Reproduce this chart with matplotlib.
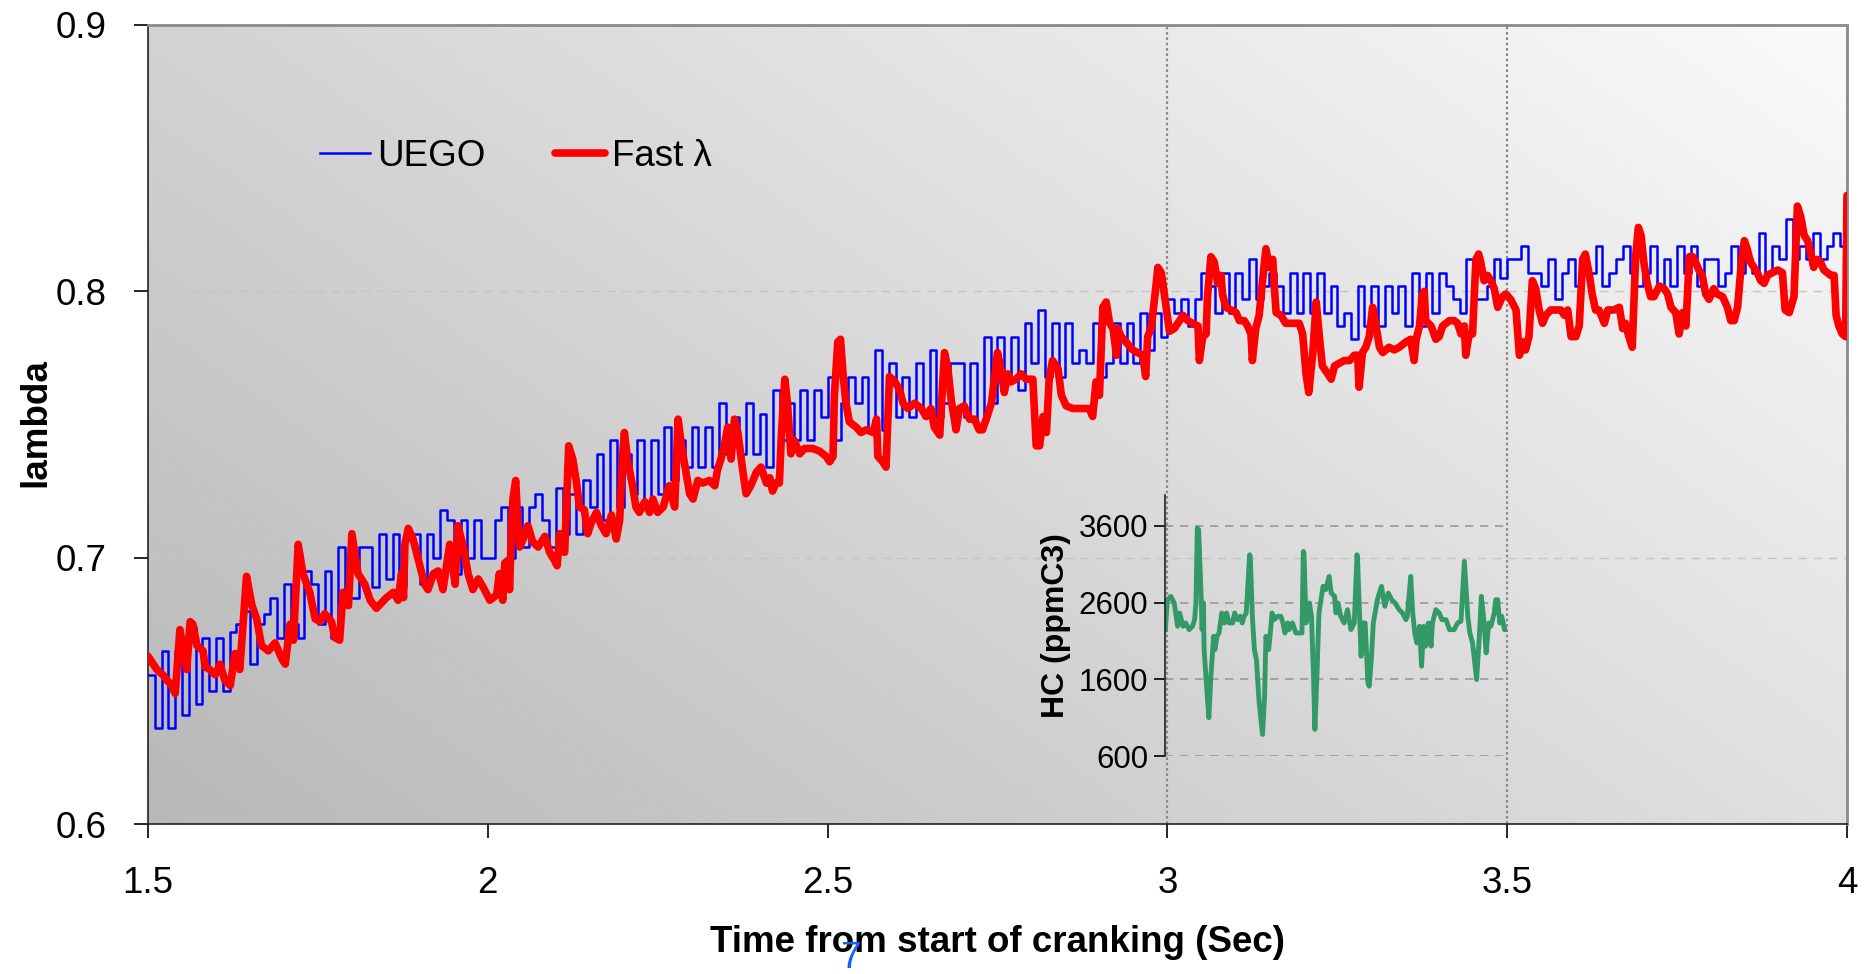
import matplotlib
matplotlib.use("Agg")
import matplotlib.pyplot as plt
from matplotlib.lines import Line2D
import numpy as np

plt.rcParams['font.family'] = ['Liberation Sans', 'DejaVu Sans']

# UEGO lambda, stepped signal sampled every 0.01 s from 1.50 to 4.00 s
uego_start = 1.50
uego_step = 0.01
uego = [
    0.656, 0.636, 0.665, 0.636, 0.665, 0.641, 0.674, 0.645, 0.670, 0.650,
    0.670, 0.650, 0.672, 0.675, 0.680, 0.660, 0.675, 0.679, 0.685, 0.670,
    0.690, 0.675, 0.670, 0.695, 0.690, 0.675, 0.695, 0.670, 0.704, 0.685,
    0.685, 0.704, 0.704, 0.689, 0.709, 0.692, 0.709, 0.689, 0.709, 0.709,
    0.690, 0.709, 0.700, 0.718, 0.714, 0.694, 0.714, 0.700, 0.714, 0.700,
    0.700, 0.714, 0.719, 0.700, 0.719, 0.704, 0.719, 0.724, 0.714, 0.704,
    0.726, 0.709, 0.724, 0.709, 0.729, 0.719, 0.739, 0.714, 0.744, 0.719,
    0.739, 0.724, 0.744, 0.719, 0.744, 0.724, 0.749, 0.729, 0.744, 0.734,
    0.749, 0.734, 0.749, 0.734, 0.758, 0.739, 0.753, 0.739, 0.758, 0.739,
    0.754, 0.734, 0.763, 0.744, 0.758, 0.744, 0.763, 0.744, 0.763, 0.753,
    0.768, 0.744, 0.758, 0.768, 0.758, 0.768, 0.748, 0.778, 0.748, 0.773,
    0.753, 0.768, 0.753, 0.773, 0.753, 0.778, 0.753, 0.758, 0.773, 0.773,
    0.753, 0.773, 0.748, 0.783, 0.758, 0.783, 0.768, 0.783, 0.763, 0.788,
    0.773, 0.793, 0.768, 0.788, 0.768, 0.788, 0.773, 0.778, 0.773, 0.788,
    0.768, 0.773, 0.788, 0.773, 0.788, 0.773, 0.792, 0.778, 0.792, 0.783,
    0.797, 0.792, 0.797, 0.787, 0.797, 0.807, 0.802, 0.792, 0.807, 0.792,
    0.807, 0.797, 0.812, 0.797, 0.802, 0.807, 0.802, 0.792, 0.807, 0.792,
    0.807, 0.792, 0.807, 0.792, 0.802, 0.787, 0.792, 0.782, 0.802, 0.787,
    0.802, 0.787, 0.802, 0.792, 0.802, 0.787, 0.807, 0.787, 0.807, 0.792,
    0.807, 0.802, 0.797, 0.792, 0.812, 0.797, 0.797, 0.802, 0.812, 0.805,
    0.812, 0.812, 0.817, 0.807, 0.807, 0.802, 0.812, 0.797, 0.807, 0.812,
    0.802, 0.807, 0.807, 0.817, 0.802, 0.807, 0.812, 0.817, 0.807, 0.802,
    0.807, 0.817, 0.802, 0.812, 0.802, 0.817, 0.807, 0.817, 0.802, 0.812,
    0.812, 0.802, 0.807, 0.817, 0.807, 0.812, 0.807, 0.822, 0.807, 0.817,
    0.812, 0.827, 0.812, 0.817, 0.812, 0.822, 0.812, 0.817, 0.822, 0.817,
    0.812,
]

# Fast lambda (time s, lambda)
fast_lambda = [
    (1.500, 0.663), (1.513, 0.658), (1.522, 0.656), (1.528, 0.654), (1.535, 0.652),
    (1.540, 0.649), (1.547, 0.673), (1.557, 0.658), (1.562, 0.676), (1.566, 0.675),
    (1.572, 0.667), (1.581, 0.665), (1.584, 0.659), (1.591, 0.658), (1.599, 0.656),
    (1.606, 0.660), (1.613, 0.654), (1.621, 0.652), (1.628, 0.664), (1.635, 0.658),
    (1.645, 0.693), (1.653, 0.682), (1.660, 0.677), (1.667, 0.667), (1.677, 0.665),
    (1.687, 0.668), (1.697, 0.662), (1.702, 0.660), (1.709, 0.675), (1.714, 0.669),
    (1.721, 0.705), (1.728, 0.694), (1.738, 0.687), (1.746, 0.677), (1.753, 0.676),
    (1.760, 0.679), (1.770, 0.676), (1.775, 0.670), (1.782, 0.669), (1.787, 0.687),
    (1.795, 0.682), (1.800, 0.709), (1.809, 0.694), (1.819, 0.690), (1.827, 0.684),
    (1.836, 0.681), (1.851, 0.685), (1.861, 0.687), (1.868, 0.684), (1.873, 0.694),
    (1.876, 0.685), (1.878, 0.705), (1.883, 0.711), (1.890, 0.707), (1.895, 0.702),
    (1.907, 0.690), (1.912, 0.688), (1.920, 0.694), (1.927, 0.695), (1.934, 0.688),
    (1.944, 0.705), (1.952, 0.690), (1.956, 0.712), (1.964, 0.704), (1.971, 0.694),
    (1.978, 0.688), (1.986, 0.692), (1.993, 0.689), (2.003, 0.684), (2.013, 0.686),
    (2.017, 0.694), (2.022, 0.684), (2.025, 0.698), (2.030, 0.699), (2.032, 0.688),
    (2.035, 0.712), (2.037, 0.722), (2.041, 0.729), (2.044, 0.714), (2.047, 0.704),
    (2.052, 0.707), (2.059, 0.712), (2.066, 0.706), (2.074, 0.704), (2.084, 0.708),
    (2.091, 0.702), (2.098, 0.699), (2.102, 0.697), (2.106, 0.709), (2.113, 0.702),
    (2.115, 0.714), (2.119, 0.742), (2.125, 0.737), (2.130, 0.729), (2.135, 0.719),
    (2.142, 0.718), (2.147, 0.709), (2.152, 0.713), (2.160, 0.717), (2.167, 0.712),
    (2.174, 0.709), (2.182, 0.716), (2.189, 0.707), (2.194, 0.714), (2.198, 0.737),
    (2.201, 0.747), (2.206, 0.736), (2.213, 0.727), (2.218, 0.719), (2.223, 0.717),
    (2.231, 0.721), (2.238, 0.717), (2.243, 0.722), (2.250, 0.717), (2.258, 0.719),
    (2.267, 0.727), (2.275, 0.719), (2.280, 0.752), (2.285, 0.742), (2.289, 0.736),
    (2.297, 0.724), (2.302, 0.722), (2.309, 0.729), (2.316, 0.728), (2.326, 0.729),
    (2.334, 0.727), (2.338, 0.733), (2.343, 0.737), (2.348, 0.742), (2.353, 0.749),
    (2.358, 0.737), (2.363, 0.752), (2.368, 0.747), (2.375, 0.733), (2.380, 0.724),
    (2.387, 0.727), (2.395, 0.732), (2.402, 0.734), (2.410, 0.728), (2.415, 0.730),
    (2.419, 0.725), (2.424, 0.728), (2.429, 0.728), (2.432, 0.746), (2.437, 0.767),
    (2.441, 0.758), (2.446, 0.739), (2.451, 0.744), (2.459, 0.739), (2.466, 0.741),
    (2.478, 0.741), (2.488, 0.740), (2.498, 0.738), (2.503, 0.736), (2.508, 0.738),
    (2.510, 0.761), (2.515, 0.781), (2.519, 0.782), (2.523, 0.768), (2.527, 0.758),
    (2.532, 0.751), (2.542, 0.749), (2.549, 0.747), (2.557, 0.748), (2.567, 0.747),
    (2.572, 0.752), (2.574, 0.738), (2.581, 0.736), (2.586, 0.734), (2.591, 0.768),
    (2.599, 0.766), (2.606, 0.763), (2.611, 0.758), (2.618, 0.756), (2.628, 0.758),
    (2.638, 0.756), (2.645, 0.753), (2.652, 0.756), (2.657, 0.749), (2.665, 0.746),
    (2.672, 0.777), (2.677, 0.771), (2.682, 0.759), (2.689, 0.748), (2.694, 0.756),
    (2.701, 0.757), (2.709, 0.752), (2.716, 0.752), (2.723, 0.748), (2.728, 0.748),
    (2.736, 0.754), (2.741, 0.758), (2.746, 0.768), (2.750, 0.777), (2.755, 0.771),
    (2.760, 0.762), (2.765, 0.769), (2.770, 0.766), (2.777, 0.767), (2.785, 0.769),
    (2.792, 0.767), (2.802, 0.767), (2.807, 0.742), (2.812, 0.742), (2.817, 0.753),
    (2.822, 0.747), (2.826, 0.767), (2.831, 0.774), (2.839, 0.771), (2.844, 0.761),
    (2.851, 0.757), (2.861, 0.756), (2.875, 0.756), (2.885, 0.756), (2.890, 0.753),
    (2.895, 0.766), (2.900, 0.761), (2.905, 0.794), (2.910, 0.796), (2.915, 0.788),
    (2.920, 0.786), (2.925, 0.776), (2.927, 0.786), (2.932, 0.783), (2.939, 0.781),
    (2.949, 0.778), (2.956, 0.777), (2.964, 0.776), (2.968, 0.768), (2.971, 0.783),
    (2.976, 0.786), (2.981, 0.797), (2.986, 0.809), (2.991, 0.807), (2.996, 0.798),
    (3.003, 0.785), (3.010, 0.786), (3.018, 0.789), (3.023, 0.791), (3.030, 0.789),
    (3.037, 0.788), (3.045, 0.787), (3.047, 0.774), (3.052, 0.783), (3.057, 0.784),
    (3.059, 0.798), (3.064, 0.813), (3.069, 0.811), (3.074, 0.803), (3.079, 0.806),
    (3.081, 0.799), (3.086, 0.794), (3.094, 0.793), (3.101, 0.792), (3.106, 0.789),
    (3.113, 0.789), (3.118, 0.787), (3.123, 0.784), (3.125, 0.774), (3.130, 0.786),
    (3.135, 0.791), (3.140, 0.804), (3.145, 0.816), (3.150, 0.809), (3.155, 0.812),
    (3.157, 0.803), (3.160, 0.792), (3.167, 0.791), (3.174, 0.788), (3.184, 0.788),
    (3.194, 0.788), (3.199, 0.784), (3.204, 0.769), (3.208, 0.762), (3.214, 0.777),
    (3.219, 0.796), (3.224, 0.782), (3.228, 0.772), (3.236, 0.769), (3.241, 0.767),
    (3.246, 0.772), (3.253, 0.773), (3.260, 0.774), (3.268, 0.774), (3.275, 0.776),
    (3.280, 0.776), (3.282, 0.764), (3.287, 0.777), (3.292, 0.779), (3.297, 0.783),
    (3.302, 0.794), (3.307, 0.787), (3.312, 0.779), (3.317, 0.777), (3.326, 0.779),
    (3.334, 0.778), (3.341, 0.779), (3.351, 0.781), (3.358, 0.782), (3.363, 0.774),
    (3.366, 0.782), (3.371, 0.787), (3.375, 0.799), (3.378, 0.800), (3.380, 0.789),
    (3.388, 0.787), (3.395, 0.782), (3.400, 0.783), (3.405, 0.787), (3.410, 0.788),
    (3.415, 0.789), (3.422, 0.789), (3.427, 0.788), (3.432, 0.784), (3.437, 0.787),
    (3.439, 0.776), (3.444, 0.784), (3.449, 0.784), (3.454, 0.812), (3.458, 0.814),
    (3.461, 0.811), (3.466, 0.804), (3.471, 0.806), (3.476, 0.804), (3.481, 0.801),
    (3.486, 0.794), (3.493, 0.798), (3.498, 0.799), (3.505, 0.797), (3.513, 0.793),
    (3.518, 0.776), (3.523, 0.781), (3.527, 0.778), (3.532, 0.783), (3.537, 0.804),
    (3.542, 0.801), (3.547, 0.793), (3.552, 0.788), (3.557, 0.791), (3.564, 0.793),
    (3.572, 0.793), (3.579, 0.793), (3.584, 0.791), (3.589, 0.793), (3.594, 0.783),
    (3.601, 0.783), (3.606, 0.787), (3.611, 0.812), (3.615, 0.814), (3.621, 0.806),
    (3.625, 0.799), (3.630, 0.793), (3.635, 0.793), (3.643, 0.788), (3.648, 0.793),
    (3.657, 0.793), (3.665, 0.794), (3.670, 0.786), (3.674, 0.788), (3.679, 0.783),
    (3.684, 0.779), (3.689, 0.813), (3.693, 0.824), (3.697, 0.821), (3.701, 0.811),
    (3.706, 0.803), (3.711, 0.798), (3.716, 0.798), (3.724, 0.802), (3.731, 0.801),
    (3.736, 0.799), (3.741, 0.794), (3.748, 0.792), (3.753, 0.784), (3.758, 0.792),
    (3.763, 0.787), (3.768, 0.813), (3.773, 0.813), (3.777, 0.811), (3.782, 0.808),
    (3.787, 0.806), (3.792, 0.799), (3.797, 0.797), (3.804, 0.801), (3.809, 0.799),
    (3.817, 0.798), (3.824, 0.794), (3.829, 0.789), (3.834, 0.789), (3.839, 0.794),
    (3.844, 0.809), (3.849, 0.819), (3.853, 0.816), (3.858, 0.811), (3.863, 0.809),
    (3.868, 0.807), (3.873, 0.804), (3.878, 0.803), (3.883, 0.806), (3.890, 0.807),
    (3.898, 0.808), (3.905, 0.807), (3.909, 0.793), (3.915, 0.792), (3.922, 0.798),
    (3.927, 0.832), (3.932, 0.828), (3.937, 0.821), (3.942, 0.819), (3.947, 0.814),
    (3.951, 0.809), (3.956, 0.812), (3.961, 0.811), (3.966, 0.808), (3.971, 0.807),
    (3.976, 0.806), (3.981, 0.806), (3.984, 0.791), (3.988, 0.787), (3.993, 0.784),
    (3.998, 0.783), (4.000, 0.836),
]

# HC emissions for the inset (time s, ppmC3)
hc = [
    (2.997, 2247), (3.000, 2637), (3.005, 2681), (3.010, 2594), (3.015, 2291),
    (3.018, 2464), (3.023, 2291), (3.027, 2334), (3.032, 2247), (3.037, 2291),
    (3.040, 2377), (3.042, 2594), (3.044, 3569), (3.046, 3548), (3.050, 2594),
    (3.051, 2247), (3.053, 2594), (3.054, 1987), (3.058, 1467), (3.061, 1099),
    (3.064, 1640), (3.068, 2161), (3.070, 1987), (3.073, 2161), (3.076, 2204),
    (3.080, 2464), (3.084, 2334), (3.087, 2464), (3.091, 2334), (3.096, 2334),
    (3.099, 2464), (3.103, 2377), (3.107, 2421), (3.110, 2334), (3.113, 2421),
    (3.116, 2464), (3.121, 3223), (3.122, 3201), (3.125, 2421), (3.128, 1987),
    (3.131, 1857), (3.135, 1294), (3.140, 882), (3.143, 1380), (3.145, 2161),
    (3.149, 1987), (3.151, 2161), (3.154, 2464), (3.157, 2377), (3.162, 2421),
    (3.167, 2421), (3.170, 2334), (3.173, 2204), (3.177, 2334), (3.179, 2247),
    (3.184, 2334), (3.189, 2204), (3.194, 2204), (3.198, 2204), (3.200, 3266),
    (3.201, 3244), (3.204, 2334), (3.209, 2594), (3.212, 2421), (3.215, 1640),
    (3.217, 947), (3.220, 1640), (3.223, 2464), (3.226, 2637), (3.229, 2811),
    (3.233, 2768), (3.238, 2941), (3.241, 2724), (3.246, 2681), (3.248, 2464),
    (3.251, 2594), (3.255, 2421), (3.260, 2334), (3.265, 2507), (3.270, 2247),
    (3.275, 2334), (3.279, 3223), (3.280, 3114), (3.285, 1901), (3.287, 2334),
    (3.291, 2334), (3.295, 1554), (3.297, 1510), (3.300, 1857), (3.303, 2334),
    (3.309, 2637), (3.315, 2811), (3.320, 2551), (3.325, 2724), (3.330, 2637),
    (3.335, 2594), (3.341, 2507), (3.346, 2464), (3.351, 2377), (3.353, 2421),
    (3.358, 2941), (3.361, 2464), (3.364, 2204), (3.367, 2074), (3.371, 2291),
    (3.374, 1770), (3.377, 2291), (3.380, 2031), (3.384, 2334), (3.388, 2031),
    (3.390, 2334), (3.395, 2507), (3.400, 2464), (3.404, 2377), (3.410, 2377),
    (3.415, 2247), (3.422, 2247), (3.427, 2334), (3.432, 2356), (3.437, 3136),
    (3.442, 2421), (3.445, 2204), (3.449, 2074), (3.455, 1597), (3.459, 2161),
    (3.462, 2681), (3.466, 2334), (3.469, 1944), (3.473, 2334), (3.476, 2291),
    (3.481, 2464), (3.483, 2637), (3.486, 2637), (3.489, 2334), (3.492, 2421),
    (3.496, 2247), (3.498, 2247),
]

x_ticks = [1.5, 2, 2.5, 3, 3.5, 4]
x_labels = ["1.5", "2", "2.5", "3", "3.5", "4"]
y_ticks = [0.6, 0.7, 0.8, 0.9]
y_labels = ["0.6", "0.7", "0.8", "0.9"]
hc_ticks = [600, 1600, 2600, 3600]
window = [3.0, 3.5]

FS = 26.5

fig = plt.figure(figsize=(18.7, 9.74), dpi=100)
ax = fig.add_axes([148 / 1870, 1 - 824 / 974, 1699 / 1870, 799 / 974])

# diagonal grey gradient behind the plot area
gx, gy = np.meshgrid(np.linspace(0, 1, 300), np.linspace(0, 1, 300))
shade = 0.72 + 0.26 * (0.6 * gx + 0.4 * gy)
ax.imshow(shade, extent=(0, 1, 0, 1), transform=ax.transAxes, origin="lower",
          cmap="gray", vmin=0, vmax=1, aspect="auto", zorder=0, interpolation="bilinear")

uego_t = uego_start + uego_step * np.arange(len(uego))
fl_t, fl_v = zip(*fast_lambda)

ax.plot(uego_t, uego, color="#0000ff", lw=1.8, drawstyle="steps-post", zorder=3)
ax.plot(fl_t, fl_v, color="#ff0000", lw=5.5, solid_joinstyle="round",
        solid_capstyle="round", zorder=4)

for xv in window:
    ax.axvline(xv, color="#8c8c8c", lw=1.6, ls=(0, (1.2, 1.2)), zorder=2)

ax.set_xlim(1.5, 4)
ax.set_ylim(0.6, 0.9)
ax.set_xticks(x_ticks)
ax.set_xticklabels(x_labels)
ax.set_yticks(y_ticks)
ax.set_yticklabels(y_labels)
ax.set_axisbelow(True)
ax.yaxis.grid(True, color="#c4c4c4", lw=1, ls=(0, (6, 5)))
ax.tick_params(axis="both", direction="out", length=10, width=1.2, labelsize=FS)
ax.tick_params(axis="x", pad=20)
ax.tick_params(axis="y", pad=20)

for side in ["left", "bottom"]:
    ax.spines[side].set_color("#222222")
    ax.spines[side].set_linewidth(1.2)
for side in ["top", "right"]:
    ax.spines[side].set_color("#8a8a8a")
    ax.spines[side].set_linewidth(2)

ax.set_xlabel("Time from start of cranking (Sec)", fontsize=FS, fontweight="bold")
ax.xaxis.set_label_coords(0.5, -0.148)
ax.xaxis.label.set_va("center")
ax.set_ylabel("lambda", fontsize=FS, fontweight="bold")
ax.yaxis.set_label_coords(-0.066, 0.502)
ax.yaxis.label.set_va("center")

handles = [Line2D([], [], color="#0000ff", lw=1.8),
           Line2D([], [], color="#ff0000", lw=5.5, solid_capstyle="round")]
fig.legend(handles, ["UEGO", "Fast λ"], loc="center left",
           bbox_to_anchor=(320 / 1870, 1 - 156 / 974), frameon=False, ncol=2,
           fontsize=FS, handlelength=1.35, handletextpad=0.2, columnspacing=1.9,
           borderpad=0, borderaxespad=0)

# HC inset sitting between the two dotted markers
axins = ax.inset_axes([2.996, 0.6255, 0.504, 0.098], transform=ax.transData)
axins.patch.set_visible(False)
hc_t, hc_v = zip(*hc)
axins.plot(hc_t, hc_v, color="#339966", lw=3.5, solid_joinstyle="round")
axins.set_xlim(2.996, 3.5)
axins.set_ylim(600, 4000)
axins.set_xticks([])
axins.set_yticks(hc_ticks)
axins.set_yticklabels([str(v) for v in hc_ticks])
axins.yaxis.grid(True, color="#999999", lw=1.2, ls=(0, (5, 4)))
axins.tick_params(axis="y", direction="out", length=8, width=1.2, labelsize=22.5, pad=4)
for side in ["top", "right", "bottom"]:
    axins.spines[side].set_visible(False)
axins.spines["left"].set_color("#222222")
axins.spines["left"].set_linewidth(1.2)
axins.set_ylabel("HC (ppmC3)", fontsize=23, fontweight="bold", labelpad=5)

# page number peeking in under the axis title
fig.text(850 / 1870, 1 - 941 / 974, "7", color="#1060ff", fontsize=FS,
         ha="center", va="top")

fig.savefig("out.png", dpi=100)
